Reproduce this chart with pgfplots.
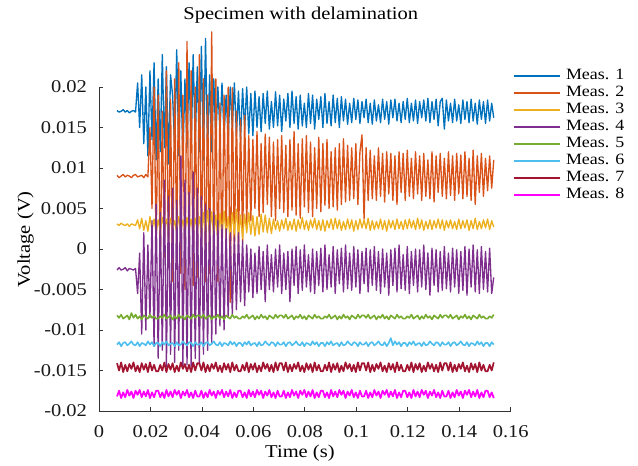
\documentclass[border=0pt]{standalone}
\usepackage{pgfplots}
\usepackage{pgfplotstable}
\pgfplotsset{compat=1.18}
\usepackage{fontspec}
\setmainfont{Liberation Serif}[FakeStretch=1.14]
\definecolor{c1}{rgb}{0,0.447,0.741}
\definecolor{c2}{rgb}{0.85,0.325,0.098}
\definecolor{c3}{rgb}{0.929,0.694,0.125}
\definecolor{c4}{rgb}{0.494,0.184,0.556}
\definecolor{c5}{rgb}{0.466,0.674,0.188}
\definecolor{c6}{rgb}{0.301,0.745,0.933}
\definecolor{c7}{rgb}{0.635,0.078,0.184}
\definecolor{c8}{rgb}{1,0,1}
\pgfplotstableread{
t s1 s2 s3 s4 s5 s6 s7 s8
70e-4 171e-4 91e-4 31e-4 -26e-4 -82e-4 -118e-4 -141e-4 -182e-4
78e-4 169e-4 88e-4 29e-4 -23e-4 -85e-4 -115e-4 -150e-4 -175e-4
86e-4 170e-4 90e-4 32e-4 -26e-4 -81e-4 -120e-4 -140e-4 -184e-4
94e-4 172e-4 92e-4 30e-4 -25e-4 -86e-4 -116e-4 -152e-4 -177e-4
102e-4 169e-4 89e-4 29e-4 -23e-4 -84e-4 -115e-4 -143e-4 -183e-4
110e-4 171e-4 91e-4 31e-4 -27e-4 -82e-4 -119e-4 -151e-4 -174e-4
118e-4 168e-4 90e-4 28e-4 -24e-4 -87e-4 -117e-4 -142e-4 -181e-4
126e-4 170e-4 88e-4 31e-4 -25e-4 -79e-4 -114e-4 -148e-4 -176e-4
134e-4 171e-4 91e-4 30e-4 -26e-4 -85e-4 -118e-4 -140e-4 -184e-4
142e-4 169e-4 92e-4 29e-4 -24e-4 -81e-4 -119e-4 -151e-4 -175e-4
150e-4 205e-4 89e-4 36e-4 -55e-4 -86e-4 -115e-4 -144e-4 -180e-4
158e-4 150e-4 90e-4 25e-4 -5e-4 -83e-4 -120e-4 -152e-4 -174e-4
166e-4 215e-4 91e-4 38e-4 -105e-4 -87e-4 -116e-4 -141e-4 -183e-4
174e-4 130e-4 88e-4 23e-4 20e-4 -82e-4 -117e-4 -149e-4 -176e-4
182e-4 200e-4 92e-4 35e-4 -100e-4 -84e-4 -119e-4 -142e-4 -182e-4
190e-4 115e-4 89e-4 22e-4 5e-4 -86e-4 -114e-4 -152e-4 -174e-4
198e-4 220e-4 150e-4 40e-4 -85e-4 -81e-4 -118e-4 -140e-4 -184e-4
206e-4 135e-4 50e-4 24e-4 35e-4 -85e-4 -115e-4 -150e-4 -177e-4
214e-4 230e-4 200e-4 37e-4 -120e-4 -83e-4 -120e-4 -143e-4 -183e-4
222e-4 110e-4 0 21e-4 55e-4 -86e-4 -116e-4 -151e-4 -175e-4
230e-4 210e-4 190e-4 36e-4 -135e-4 -86e-4 -116e-4 -151e-4 -175e-4
238e-4 120e-4 -30e-4 22e-4 45e-4 -83e-4 -120e-4 -143e-4 -183e-4
246e-4 240e-4 170e-4 39e-4 -125e-4 -85e-4 -115e-4 -150e-4 -177e-4
254e-4 125e-4 -10e-4 25e-4 85e-4 -81e-4 -118e-4 -140e-4 -184e-4
262e-4 225e-4 220e-4 37e-4 -145e-4 -86e-4 -114e-4 -152e-4 -174e-4
270e-4 105e-4 -20e-4 20e-4 65e-4 -84e-4 -119e-4 -142e-4 -182e-4
278e-4 215e-4 185e-4 38e-4 -130e-4 -82e-4 -117e-4 -149e-4 -176e-4
286e-4 190e-4 -40e-4 24e-4 75e-4 -87e-4 -116e-4 -141e-4 -183e-4
294e-4 125e-4 210e-4 35e-4 -140e-4 -83e-4 -120e-4 -152e-4 -174e-4
302e-4 246e-4 0 21e-4 60e-4 -86e-4 -115e-4 -144e-4 -180e-4
310e-4 115e-4 230e-4 40e-4 -125e-4 -81e-4 -119e-4 -151e-4 -175e-4
318e-4 220e-4 -30e-4 23e-4 115e-4 -85e-4 -118e-4 -140e-4 -184e-4
326e-4 110e-4 190e-4 36e-4 -145e-4 -83e-4 -114e-4 -148e-4 -176e-4
334e-4 210e-4 -50e-4 22e-4 85e-4 -87e-4 -117e-4 -142e-4 -181e-4
342e-4 125e-4 256e-4 39e-4 -143e-4 -82e-4 -119e-4 -151e-4 -174e-4
350e-4 230e-4 -20e-4 24e-4 70e-4 -84e-4 -115e-4 -143e-4 -183e-4
358e-4 120e-4 220e-4 37e-4 -145e-4 -86e-4 -116e-4 -152e-4 -177e-4
366e-4 240e-4 -45e-4 20e-4 95e-4 -81e-4 -120e-4 -140e-4 -184e-4
374e-4 130e-4 200e-4 38e-4 -135e-4 -85e-4 -115e-4 -150e-4 -175e-4
382e-4 225e-4 -35e-4 23e-4 75e-4 -82e-4 -118e-4 -141e-4 -182e-4
390e-4 120e-4 240e-4 40e-4 -143e-4 -82e-4 -118e-4 -141e-4 -182e-4
398e-4 250e-4 -10e-4 16e-4 65e-4 -85e-4 -115e-4 -150e-4 -175e-4
406e-4 110e-4 210e-4 45e-4 -130e-4 -81e-4 -120e-4 -140e-4 -184e-4
414e-4 260e-4 -40e-4 18e-4 55e-4 -86e-4 -116e-4 -152e-4 -177e-4
422e-4 120e-4 190e-4 48e-4 -125e-4 -84e-4 -115e-4 -143e-4 -183e-4
430e-4 215e-4 -30e-4 20e-4 50e-4 -82e-4 -119e-4 -151e-4 -174e-4
438e-4 120e-4 268e-4 46e-4 -115e-4 -87e-4 -117e-4 -142e-4 -181e-4
446e-4 210e-4 -20e-4 15e-4 45e-4 -83e-4 -114e-4 -148e-4 -176e-4
454e-4 135e-4 210e-4 42e-4 -105e-4 -85e-4 -118e-4 -140e-4 -184e-4
462e-4 200e-4 -40e-4 12e-4 35e-4 -81e-4 -119e-4 -151e-4 -175e-4
470e-4 145e-4 180e-4 44e-4 -95e-4 -86e-4 -115e-4 -144e-4 -180e-4
478e-4 205e-4 -20e-4 18e-4 30e-4 -83e-4 -120e-4 -152e-4 -174e-4
486e-4 140e-4 190e-4 47e-4 -100e-4 -87e-4 -116e-4 -141e-4 -183e-4
494e-4 190e-4 10e-4 17e-4 25e-4 -82e-4 -117e-4 -149e-4 -176e-4
502e-4 135e-4 200e-4 40e-4 -85e-4 -84e-4 -119e-4 -142e-4 -182e-4
510e-4 200e-4 -66e-4 14e-4 20e-4 -86e-4 -114e-4 -152e-4 -174e-4
518e-4 150e-4 199e-4 45e-4 -80e-4 -81e-4 -118e-4 -140e-4 -184e-4
526e-4 205e-4 -10e-4 19e-4 15e-4 -85e-4 -115e-4 -150e-4 -177e-4
534e-4 140e-4 170e-4 49e-4 -75e-4 -83e-4 -120e-4 -143e-4 -183e-4
542e-4 195e-4 0 16e-4 20e-4 -86e-4 -116e-4 -151e-4 -175e-4
550e-4 135e-4 160e-4 42e-4 -65e-4 -86e-4 -116e-4 -151e-4 -175e-4
558e-4 198e-4 10e-4 13e-4 10e-4 -83e-4 -120e-4 -143e-4 -183e-4
566e-4 148e-4 165e-4 43e-4 -70e-4 -85e-4 -115e-4 -150e-4 -177e-4
574e-4 200e-4 30e-4 20e-4 5e-4 -81e-4 -118e-4 -140e-4 -184e-4
582e-4 142e-4 140e-4 45e-4 -53e-4 -86e-4 -114e-4 -152e-4 -174e-4
590e-4 192e-4 35e-4 18e-4 0 -84e-4 -119e-4 -142e-4 -182e-4
598e-4 140e-4 135e-4 41e-4 -60e-4 -82e-4 -117e-4 -149e-4 -176e-4
606e-4 195e-4 50e-4 16e-4 -5e-4 -87e-4 -116e-4 -141e-4 -183e-4
614e-4 150e-4 145e-4 40e-4 -55e-4 -83e-4 -120e-4 -152e-4 -174e-4
622e-4 188e-4 40e-4 18e-4 3e-4 -86e-4 -115e-4 -144e-4 -180e-4
630e-4 145e-4 130e-4 43e-4 -50e-4 -81e-4 -119e-4 -151e-4 -175e-4
638e-4 192e-4 45e-4 21e-4 -3e-4 -85e-4 -118e-4 -140e-4 -184e-4
646e-4 155e-4 142e-4 42e-4 -65e-4 -83e-4 -114e-4 -148e-4 -176e-4
654e-4 195e-4 55e-4 20e-4 5e-4 -87e-4 -117e-4 -142e-4 -181e-4
662e-4 148e-4 138e-4 38e-4 -50e-4 -82e-4 -119e-4 -151e-4 -174e-4
670e-4 182e-4 40e-4 19e-4 -7e-4 -84e-4 -115e-4 -143e-4 -183e-4
678e-4 150e-4 132e-4 37e-4 -53e-4 -86e-4 -116e-4 -152e-4 -177e-4
686e-4 194e-4 35e-4 24e-4 0 -81e-4 -120e-4 -140e-4 -184e-4
694e-4 152e-4 135e-4 35e-4 -47e-4 -85e-4 -115e-4 -150e-4 -175e-4
702e-4 190e-4 50e-4 22e-4 5e-4 -82e-4 -118e-4 -141e-4 -182e-4
710e-4 145e-4 140e-4 36e-4 -55e-4 -82e-4 -118e-4 -141e-4 -182e-4
718e-4 185e-4 45e-4 25e-4 -5e-4 -85e-4 -115e-4 -150e-4 -175e-4
726e-4 158e-4 128e-4 38e-4 -50e-4 -81e-4 -120e-4 -140e-4 -184e-4
734e-4 192e-4 40e-4 23e-4 -3e-4 -86e-4 -116e-4 -152e-4 -177e-4
742e-4 150e-4 135e-4 34e-4 -65e-4 -84e-4 -115e-4 -143e-4 -183e-4
750e-4 195e-4 48e-4 24e-4 0 -82e-4 -119e-4 -151e-4 -174e-4
758e-4 155e-4 145e-4 37e-4 -45e-4 -87e-4 -117e-4 -142e-4 -181e-4
766e-4 188e-4 42e-4 22e-4 3e-4 -83e-4 -114e-4 -148e-4 -176e-4
774e-4 148e-4 130e-4 36e-4 -55e-4 -85e-4 -118e-4 -140e-4 -184e-4
782e-4 190e-4 38e-4 25e-4 -1e-4 -81e-4 -119e-4 -151e-4 -175e-4
790e-4 152e-4 136e-4 39e-4 -51e-4 -86e-4 -115e-4 -144e-4 -180e-4
798e-4 180e-4 52e-4 24e-4 5e-4 -83e-4 -120e-4 -152e-4 -174e-4
806e-4 150e-4 140e-4 35e-4 -47e-4 -87e-4 -116e-4 -141e-4 -183e-4
814e-4 192e-4 45e-4 23e-4 -7e-4 -82e-4 -117e-4 -149e-4 -176e-4
822e-4 155e-4 132e-4 36e-4 -53e-4 -84e-4 -119e-4 -142e-4 -182e-4
830e-4 190e-4 40e-4 26e-4 0 -86e-4 -114e-4 -152e-4 -174e-4
838e-4 148e-4 125e-4 38e-4 -55e-4 -81e-4 -118e-4 -140e-4 -184e-4
846e-4 185e-4 50e-4 24e-4 -3e-4 -85e-4 -115e-4 -150e-4 -177e-4
854e-4 160e-4 138e-4 35e-4 -45e-4 -83e-4 -120e-4 -143e-4 -183e-4
862e-4 188e-4 46e-4 23e-4 1e-4 -86e-4 -116e-4 -151e-4 -175e-4
870e-4 150e-4 130e-4 36e-4 -53e-4 -86e-4 -116e-4 -151e-4 -175e-4
878e-4 192e-4 54e-4 22e-4 5e-4 -83e-4 -120e-4 -143e-4 -183e-4
886e-4 155e-4 135e-4 35e-4 -50e-4 -85e-4 -115e-4 -150e-4 -177e-4
894e-4 182e-4 50e-4 26e-4 -7e-4 -81e-4 -118e-4 -140e-4 -184e-4
902e-4 152e-4 120e-4 37e-4 -47e-4 -86e-4 -114e-4 -152e-4 -174e-4
910e-4 190e-4 52e-4 24e-4 3e-4 -84e-4 -119e-4 -142e-4 -182e-4
918e-4 156e-4 125e-4 38e-4 -55e-4 -82e-4 -117e-4 -149e-4 -176e-4
926e-4 186e-4 48e-4 25e-4 -1e-4 -87e-4 -116e-4 -141e-4 -183e-4
934e-4 150e-4 130e-4 36e-4 -43e-4 -83e-4 -120e-4 -152e-4 -174e-4
942e-4 188e-4 55e-4 23e-4 1e-4 -86e-4 -115e-4 -144e-4 -180e-4
950e-4 158e-4 136e-4 34e-4 -53e-4 -81e-4 -119e-4 -151e-4 -175e-4
958e-4 185e-4 58e-4 24e-4 5e-4 -85e-4 -118e-4 -140e-4 -184e-4
966e-4 154e-4 128e-4 37e-4 -49e-4 -83e-4 -114e-4 -148e-4 -176e-4
974e-4 180e-4 60e-4 25e-4 -5e-4 -87e-4 -117e-4 -142e-4 -181e-4
982e-4 156e-4 125e-4 36e-4 -51e-4 -82e-4 -119e-4 -151e-4 -174e-4
990e-4 186e-4 62e-4 22e-4 3e-4 -84e-4 -115e-4 -143e-4 -183e-4
998e-4 160e-4 130e-4 35e-4 -47e-4 -86e-4 -116e-4 -152e-4 -177e-4
1006e-4 184e-4 55e-4 24e-4 -1e-4 -81e-4 -120e-4 -140e-4 -184e-4
1014e-4 155e-4 120e-4 37e-4 -55e-4 -85e-4 -115e-4 -150e-4 -175e-4
1022e-4 182e-4 141e-4 26e-4 -3e-4 -82e-4 -118e-4 -141e-4 -182e-4
1030e-4 162e-4 37e-4 36e-4 -43e-4 -82e-4 -118e-4 -141e-4 -182e-4
1038e-4 185e-4 125e-4 25e-4 1e-4 -85e-4 -115e-4 -150e-4 -175e-4
1046e-4 156e-4 60e-4 38e-4 -53e-4 -81e-4 -120e-4 -140e-4 -184e-4
1054e-4 180e-4 122e-4 23e-4 -1e-4 -86e-4 -116e-4 -152e-4 -177e-4
1062e-4 154e-4 62e-4 35e-4 -45e-4 -84e-4 -115e-4 -143e-4 -183e-4
1070e-4 184e-4 115e-4 24e-4 3e-4 -82e-4 -119e-4 -151e-4 -174e-4
1078e-4 158e-4 60e-4 34e-4 -51e-4 -87e-4 -117e-4 -142e-4 -181e-4
1086e-4 178e-4 125e-4 25e-4 -3e-4 -83e-4 -114e-4 -148e-4 -176e-4
1094e-4 156e-4 65e-4 37e-4 -55e-4 -85e-4 -118e-4 -140e-4 -184e-4
1102e-4 185e-4 118e-4 24e-4 0 -81e-4 -119e-4 -151e-4 -175e-4
1110e-4 160e-4 58e-4 35e-4 -47e-4 -86e-4 -115e-4 -144e-4 -180e-4
1118e-4 182e-4 120e-4 22e-4 -5e-4 -83e-4 -120e-4 -152e-4 -174e-4
1126e-4 154e-4 68e-4 36e-4 -57e-4 -87e-4 -116e-4 -141e-4 -183e-4
1134e-4 184e-4 118e-4 26e-4 -1e-4 -82e-4 -110e-4 -149e-4 -176e-4
1142e-4 162e-4 60e-4 35e-4 -45e-4 -84e-4 -119e-4 -142e-4 -182e-4
1150e-4 185e-4 115e-4 24e-4 1e-4 -86e-4 -114e-4 -152e-4 -174e-4
1158e-4 158e-4 55e-4 37e-4 -53e-4 -81e-4 -118e-4 -140e-4 -184e-4
1166e-4 180e-4 120e-4 25e-4 5e-4 -85e-4 -115e-4 -150e-4 -177e-4
1174e-4 156e-4 70e-4 34e-4 -49e-4 -83e-4 -120e-4 -143e-4 -183e-4
1182e-4 182e-4 118e-4 24e-4 -7e-4 -86e-4 -116e-4 -151e-4 -175e-4
1190e-4 160e-4 60e-4 36e-4 -51e-4 -86e-4 -116e-4 -151e-4 -175e-4
1198e-4 186e-4 122e-4 25e-4 3e-4 -83e-4 -120e-4 -143e-4 -183e-4
1206e-4 156e-4 65e-4 37e-4 -55e-4 -85e-4 -115e-4 -150e-4 -177e-4
1214e-4 180e-4 112e-4 26e-4 -3e-4 -81e-4 -118e-4 -140e-4 -184e-4
1222e-4 158e-4 62e-4 35e-4 -45e-4 -86e-4 -114e-4 -152e-4 -174e-4
1230e-4 184e-4 120e-4 24e-4 0 -84e-4 -119e-4 -142e-4 -182e-4
1238e-4 155e-4 68e-4 38e-4 -53e-4 -82e-4 -117e-4 -149e-4 -176e-4
1246e-4 182e-4 115e-4 25e-4 -1e-4 -87e-4 -116e-4 -141e-4 -183e-4
1254e-4 162e-4 60e-4 36e-4 -47e-4 -83e-4 -120e-4 -152e-4 -174e-4
1262e-4 184e-4 118e-4 23e-4 5e-4 -86e-4 -115e-4 -144e-4 -180e-4
1270e-4 158e-4 65e-4 34e-4 -50e-4 -81e-4 -119e-4 -151e-4 -175e-4
1278e-4 186e-4 110e-4 25e-4 -5e-4 -85e-4 -118e-4 -140e-4 -184e-4
1286e-4 156e-4 62e-4 36e-4 -57e-4 -83e-4 -114e-4 -148e-4 -176e-4
1294e-4 182e-4 120e-4 24e-4 1e-4 -87e-4 -117e-4 -142e-4 -181e-4
1302e-4 160e-4 58e-4 35e-4 -45e-4 -82e-4 -119e-4 -151e-4 -174e-4
1310e-4 185e-4 115e-4 26e-4 -1e-4 -84e-4 -115e-4 -143e-4 -183e-4
1318e-4 152e-4 70e-4 37e-4 -53e-4 -86e-4 -116e-4 -152e-4 -177e-4
1326e-4 182e-4 118e-4 25e-4 -3e-4 -81e-4 -120e-4 -140e-4 -184e-4
1334e-4 186e-4 65e-4 36e-4 -51e-4 -85e-4 -115e-4 -150e-4 -175e-4
1342e-4 148e-4 112e-4 23e-4 3e-4 -82e-4 -118e-4 -141e-4 -182e-4
1350e-4 184e-4 62e-4 35e-4 -49e-4 -82e-4 -118e-4 -141e-4 -182e-4
1358e-4 158e-4 120e-4 26e-4 -5e-4 -85e-4 -115e-4 -150e-4 -175e-4
1366e-4 180e-4 66e-4 36e-4 -53e-4 -81e-4 -120e-4 -140e-4 -184e-4
1374e-4 156e-4 115e-4 25e-4 1e-4 -86e-4 -116e-4 -152e-4 -177e-4
1382e-4 185e-4 60e-4 34e-4 -47e-4 -84e-4 -115e-4 -143e-4 -183e-4
1390e-4 158e-4 118e-4 24e-4 -1e-4 -82e-4 -119e-4 -151e-4 -174e-4
1398e-4 178e-4 68e-4 37e-4 -55e-4 -87e-4 -117e-4 -142e-4 -181e-4
1406e-4 155e-4 116e-4 25e-4 -3e-4 -83e-4 -114e-4 -148e-4 -176e-4
1414e-4 184e-4 62e-4 35e-4 -51e-4 -85e-4 -118e-4 -140e-4 -184e-4
1422e-4 160e-4 120e-4 26e-4 3e-4 -81e-4 -119e-4 -151e-4 -175e-4
1430e-4 182e-4 65e-4 36e-4 -57e-4 -86e-4 -115e-4 -144e-4 -180e-4
1438e-4 156e-4 112e-4 23e-4 0 -83e-4 -120e-4 -152e-4 -174e-4
1446e-4 185e-4 60e-4 35e-4 -47e-4 -87e-4 -116e-4 -141e-4 -183e-4
1454e-4 158e-4 122e-4 25e-4 5e-4 -82e-4 -117e-4 -149e-4 -176e-4
1462e-4 180e-4 55e-4 38e-4 -53e-4 -84e-4 -119e-4 -142e-4 -182e-4
1470e-4 154e-4 115e-4 24e-4 -1e-4 -86e-4 -114e-4 -152e-4 -174e-4
1478e-4 184e-4 70e-4 34e-4 -55e-4 -81e-4 -118e-4 -140e-4 -184e-4
1486e-4 160e-4 118e-4 25e-4 3e-4 -85e-4 -115e-4 -150e-4 -177e-4
1494e-4 182e-4 65e-4 36e-4 -50e-4 -83e-4 -120e-4 -143e-4 -183e-4
1502e-4 155e-4 112e-4 26e-4 -3e-4 -86e-4 -116e-4 -151e-4 -175e-4
1510e-4 184e-4 72e-4 37e-4 -53e-4 -86e-4 -116e-4 -151e-4 -175e-4
1518e-4 158e-4 115e-4 24e-4 1e-4 -83e-4 -120e-4 -143e-4 -183e-4
1526e-4 180e-4 75e-4 35e-4 -55e-4 -85e-4 -115e-4 -150e-4 -177e-4
1534e-4 162e-4 110e-4 27e-4 -35e-4 -81e-4 -118e-4 -140e-4 -184e-4
}\data
\begin{document}
\begin{tikzpicture}
\useasboundingbox (-74.25pt,-41.25pt) rectangle (404.25pt,308.25pt);
\begin{axis}[
  scale only axis,
  width=308.8pt, height=243pt,
  xmin=0, xmax=0.16, ymin=-0.02, ymax=0.02,
  clip=false,
  scaled ticks=false,
  axis lines=left,
  axis line style={-, draw=black!80, line width=0.6pt},
  tick style={draw=black!80, line width=0.6pt},
  major tick length=3pt,
  tick align=inside,
  xtick={0,0.02,0.04,0.06,0.08,0.1,0.12,0.14,0.16},
  xticklabels={0,0.02,0.04,0.06,0.08,0.1,0.12,0.14,0.16},
  ytick={-0.02,-0.015,-0.01,-0.005,0,0.005,0.01,0.015,0.02},
  yticklabels={-0.02,-0.015,-0.01,-0.005,0,0.005,0.01,0.015,0.02},
  tick label style={font=\fontsize{13.5}{16}\selectfont, text=black!90},
  xticklabel style={inner sep=0pt, anchor=center, yshift=-15.75pt},
  yticklabel style={inner sep=0pt, anchor=east, xshift=-8.8pt},
  xlabel={Time (s)},
  ylabel={Voltage (V)},
  label style={font=\fontsize{13.5}{16}\selectfont},
  xlabel style={at={(axis description cs:0.488,-0.13)}, anchor=center},
  ylabel style={at={(axis description cs:-0.1785,0.53)}, anchor=center},
  title={Specimen with delamination},
  title style={font=\fontsize{13.5}{16}\selectfont, at={(axis description cs:0.49,1)}, anchor=center, yshift=48pt},
  legend style={at={(axis description cs:1.0049,1.061)}, anchor=north west,
    draw=none, fill=none, inner sep=0pt, outer sep=0pt, column sep=3.75pt, row sep=0pt,
    font=\fontsize{11.8}{12}\selectfont,
    nodes={inner sep=0pt, text height=9pt, text depth=3.75pt}},
  legend cell align=left,
  legend image code/.code={\draw[#1, line width=1.2pt] (0pt,0pt) -- (35pt,0pt);},
  every axis plot/.append style={line width=1pt, line join=round},
]
\addplot[c1] table[x=t,y=s1]{\data};
\addlegendentry{Meas. 1}
\addplot[c2] table[x=t,y=s2]{\data};
\addlegendentry{Meas. 2}
\addplot[c3] table[x=t,y=s3]{\data};
\addlegendentry{Meas. 3}
\addplot[c4] table[x=t,y=s4]{\data};
\addlegendentry{Meas. 4}
\addplot[c5, line width=1.2pt] table[x=t,y=s5]{\data};
\addlegendentry{Meas. 5}
\addplot[c6, line width=1.2pt] table[x=t,y=s6]{\data};
\addlegendentry{Meas. 6}
\addplot[c7, line width=1.3pt] table[x=t,y=s7]{\data};
\addlegendentry{Meas. 7}
\addplot[c8, line width=1.3pt] table[x=t,y=s8]{\data};
\addlegendentry{Meas. 8}
\end{axis}
\end{tikzpicture}
\end{document}
